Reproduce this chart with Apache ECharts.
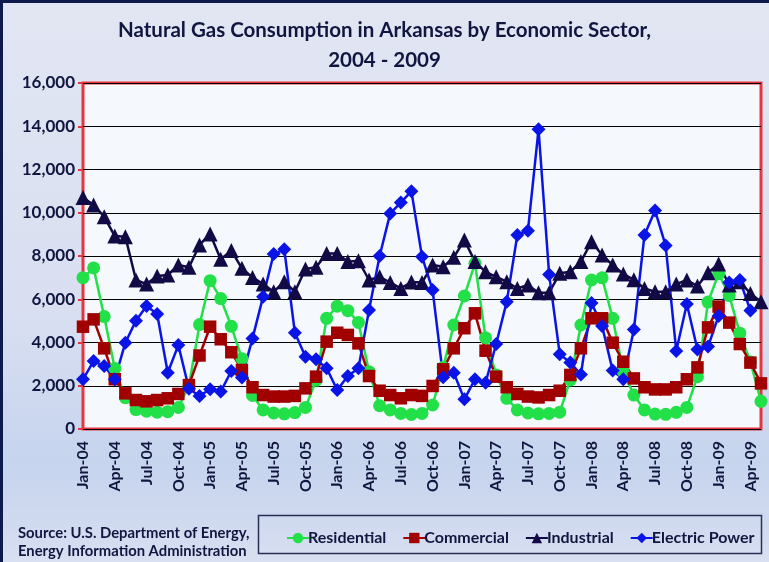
<!DOCTYPE html>
<html>
<head>
<meta charset="utf-8">
<script src="https://cdn.jsdelivr.net/npm/echarts@6/dist/echarts.min.js"></script>
<style>
  html, body { margin: 0; padding: 0; }
  #chart {
    width: 769px; height: 562px;
    background: linear-gradient(to bottom, #e2e6f3 0%, #d9dff1 55%, #c6d4ee 82%, #cfd9ef 92%, #d8e0f1 100%);
  }
</style>
</head>
<body>
<div id="chart"></div>
<script>
// Monthly categories, Jan-04 through May-09
const months = [
  'Jan-04','Feb-04','Mar-04','Apr-04','May-04','Jun-04','Jul-04','Aug-04','Sep-04','Oct-04','Nov-04','Dec-04',
  'Jan-05','Feb-05','Mar-05','Apr-05','May-05','Jun-05','Jul-05','Aug-05','Sep-05','Oct-05','Nov-05','Dec-05',
  'Jan-06','Feb-06','Mar-06','Apr-06','May-06','Jun-06','Jul-06','Aug-06','Sep-06','Oct-06','Nov-06','Dec-06',
  'Jan-07','Feb-07','Mar-07','Apr-07','May-07','Jun-07','Jul-07','Aug-07','Sep-07','Oct-07','Nov-07','Dec-07',
  'Jan-08','Feb-08','Mar-08','Apr-08','May-08','Jun-08','Jul-08','Aug-08','Sep-08','Oct-08','Nov-08','Dec-08',
  'Jan-09','Feb-09','Mar-09','Apr-09','May-09'
];

// Consumption, million cubic feet
const residential = [
  7000, 7450, 5200, 2800, 1450, 900, 820, 780, 800, 1000, 2000, 4830,
  6860, 6030, 4750, 3250, 1550, 880, 740, 700, 760, 1000, 2250, 5120,
  5680, 5470, 4930, 2650, 1080, 880, 720, 670, 720, 1110, 2850, 4810,
  6150, 7660, 4220, 2500, 1420, 880, 740, 700, 720, 780, 2270, 4810,
  6890, 6990, 5120, 2650, 1570, 880, 690, 680, 770, 1000, 2420, 5870,
  7180, 6170, 4430, 3100, 1280
];
const commercial = [
  4730, 5070, 3730, 2300, 1650, 1340, 1280, 1340, 1420, 1620, 2030, 3400,
  4730, 4150, 3550, 2730, 1930, 1570, 1500, 1500, 1530, 1880, 2420, 4040,
  4450, 4350, 3960, 2450, 1770, 1570, 1420, 1570, 1530, 1990, 2760, 3730,
  4660, 5350, 3620, 2420, 1930, 1620, 1500, 1460, 1570, 1770, 2500, 3730,
  5120, 5120, 3990, 3110, 2340, 1930, 1830, 1830, 1930, 2300, 2850, 4700,
  5660, 4920, 3930, 3070, 2110
];
const industrial = [
  10710, 10360, 9820, 8920, 8890, 6890, 6700, 7070, 7120, 7580, 7480, 8510,
  9020, 7850, 8250, 7430, 7010, 6700, 6350, 6810, 6350, 7400, 7480, 8120,
  8120, 7740, 7780, 6890, 7040, 6770, 6500, 6800, 6780, 7580, 7500, 7940,
  8740, 7740, 7270, 7040, 6810, 6500, 6660, 6300, 6300, 7200, 7270, 7740,
  8660, 8050, 7580, 7170, 6900, 6500, 6350, 6350, 6700, 6890, 6610, 7230,
  7630, 6660, 6810, 6270, 5890
];
const electricPower = [
  2300, 3140, 2910, 2300, 3990, 5010, 5690, 5320, 2600, 3880, 1860, 1530,
  1840, 1730, 2680, 2380, 4190, 6120, 8090, 8310, 4450, 3340, 3220, 2810,
  1800, 2450, 2810, 5500, 8000, 9970, 10470, 11000, 7970, 6430, 2390, 2600,
  1370, 2300, 2140, 3930, 5890, 8970, 9170, 13860, 7150, 3460, 3070, 2520,
  5830, 4760, 2700, 2300, 4600, 8970, 10100, 8480, 3610, 5780, 3680, 3810,
  5230, 6770, 6890, 5480, null
];

const sectorNames = ['Residential', 'Commercial', 'Industrial', 'Electric Power'];
const yTicks = { min: 0, max: 16000, step: 2000 };

const FONT = 'Lato, "Open Sans", sans-serif';
const INK = '#111640';

function sectorSeries(name, data, color, symbol, size) {
  return {
    name: name,
    type: 'line',
    data: data,
    symbol: symbol,
    symbolSize: size,
    showSymbol: true,
    showAllSymbol: true,
    connectNulls: false,
    lineStyle: { color: color, width: 2.5 },
    itemStyle: { color: color, borderWidth: 0 },
    emphasis: { disabled: true },
    animation: false
  };
}

const chart = echarts.init(document.getElementById('chart'), null, { renderer: 'canvas' });

chart.setOption({
  backgroundColor: 'transparent',
  animation: false,
  title: {
    text: 'Natural Gas Consumption in Arkansas by Economic Sector,\n2004 - 2009',
    left: 'center',
    top: 10,
    textStyle: {
      fontFamily: FONT, fontWeight: 'bold', fontSize: 20.5, color: INK, lineHeight: 30
    }
  },
  grid: {
    left: 83, right: 8, top: 83, bottom: 133,
    show: true,
    backgroundColor: '#f5f8fc',
    borderColor: '#e8343f',
    borderWidth: 3
  },
  xAxis: {
    type: 'category',
    data: months,
    boundaryGap: false,
    axisLine: { show: false },
    axisTick: { show: false },
    splitLine: { show: false },
    axisLabel: {
      interval: 2,
      rotate: 90,
      margin: 12,
      fontFamily: FONT, fontWeight: 'bold', fontSize: 16, color: INK
    }
  },
  yAxis: {
    type: 'value',
    min: yTicks.min,
    max: yTicks.max,
    interval: yTicks.step,
    axisLine: { show: false },
    axisTick: { show: true, length: 5, lineStyle: { color: '#e8343f', width: 2 } },
    splitLine: { show: true, lineStyle: { color: '#000000', width: 1 } },
    axisLabel: {
      margin: 8,
      fontFamily: FONT, fontWeight: 'bold', fontSize: 17, color: INK,
      formatter: v => v.toLocaleString('en-US')
    }
  },
  legend: {
    data: sectorNames,
    left: 281,
    top: 525,
    itemWidth: 22,
    itemHeight: 13,
    itemGap: 16,
    textStyle: { fontFamily: FONT, fontWeight: 'bold', fontSize: 16, color: INK, padding: [0, 0, 0, -6] }
  },
  graphic: [
    {
      type: 'rect',
      shape: { x: 1.5, y: 1.5, width: 772, height: 566 },
      style: { fill: 'none', stroke: '#0c1a4c', lineWidth: 3 },
      silent: true
    },
    {
      type: 'rect',
      shape: { x: 258.5, y: 515.5, width: 503, height: 38 },
      style: { fill: 'none', stroke: '#2a2f55', lineWidth: 1.5 },
      silent: true
    },
    {
      type: 'text',
      left: 18, top: 524,
      style: {
        text: 'Source: U.S. Department of Energy,\nEnergy Information Administration',
        font: 'bold 14.8px ' + FONT,
        fill: INK,
        lineHeight: 18
      },
      silent: true
    }
  ],
  series: [
    sectorSeries(sectorNames[0], residential, '#22e048', 'circle', 13),
    sectorSeries(sectorNames[1], commercial, '#a10000', 'rect', 12.5),
    sectorSeries(sectorNames[2], industrial, '#110a45', 'triangle', 15),
    sectorSeries(sectorNames[3], electricPower, '#0a14e6', 'diamond', 14)
  ]
});
</script>
</body>
</html>
